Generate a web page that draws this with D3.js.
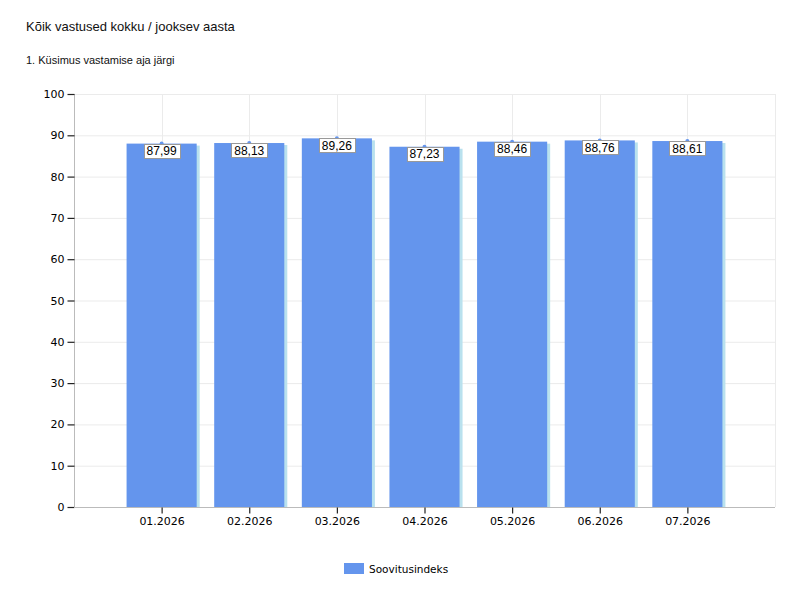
<!DOCTYPE html>
<html><head><meta charset="utf-8">
<script src="https://cdn.jsdelivr.net/npm/d3@7"></script>
<style>body{margin:0;background:#fff}svg{display:block}</style>
</head><body><svg id="c" width="800" height="600"></svg>
<script>
const categories = ["01.2026","02.2026","03.2026","04.2026","05.2026","06.2026","07.2026"];
const values = [87.99, 88.13, 89.26, 87.23, 88.46, 88.76, 88.61];
const yTicks = [0,10,20,30,40,50,60,70,80,90,100];
const seriesName = "Soovitusindeks";
const titleText = "Kõik vastused kokku / jooksev aasta";
const subtitleText = "1. Küsimus vastamise aja järgi";

const svg = d3.select("#c");
const L = 74, R = 775, T = 94, B = 507;
const x = d3.scaleLinear().domain([0, categories.length + 1]).range([L, R]);
const y = d3.scaleLinear().domain([0, 100]).range([B, T]);
const step = x(1) - x(0);
const bw = step * 0.8;

svg.append("text").attr("x", 26).attr("y", 31).attr("font-family", "Liberation Sans, Arial, sans-serif")
  .attr("font-size", 13).attr("fill", "#111").text(titleText);
svg.append("text").attr("x", 26).attr("y", 64).attr("font-family", "Liberation Sans, Arial, sans-serif")
  .attr("font-size", 11).attr("fill", "#111").text(subtitleText);

// grid
const g = svg.append("g");
g.selectAll("line.h").data(yTicks.filter(d => d > 0)).join("line")
  .attr("x1", L).attr("x2", R).attr("y1", d => y(d) + 0.5).attr("y2", d => y(d) + 0.5)
  .attr("stroke", "#ebebeb");
g.selectAll("line.v").data(categories.map((c, i) => i + 1)).join("line")
  .attr("x1", d => Math.round(x(d)) + 0.5).attr("x2", d => Math.round(x(d)) + 0.5)
  .attr("y1", T).attr("y2", B).attr("stroke", "#ebebeb");
g.append("line").attr("x1", R + 0.5).attr("x2", R + 0.5).attr("y1", T).attr("y2", B).attr("stroke", "#ebebeb");

// bars shadow
svg.append("g").selectAll("rect").data(values).join("rect")
  .attr("x", (d, i) => x(i + 1) - bw / 2 + 3).attr("y", d => y(d) + 2)
  .attr("width", bw).attr("height", d => B - y(d) - 2)
  .attr("fill", "#b9e1ee");
svg.append("g").selectAll("rect").data(values).join("rect")
  .attr("x", (d, i) => x(i + 1) - bw / 2).attr("y", d => y(d))
  .attr("width", bw).attr("height", d => B - y(d))
  .attr("fill", "#6495ed");

// axes
const ya = d3.axisLeft(y).tickValues(yTicks).tickSize(7).tickPadding(3);
const yg = svg.append("g").attr("transform", `translate(${L + 0.5},0)`).call(ya);
yg.select(".domain").attr("stroke", "#bbb").attr("d", `M0,${T}V${B}`);
yg.selectAll(".tick line").attr("stroke", "#222").attr("stroke-width", 1.2);
yg.selectAll(".tick text").attr("font-family", "DejaVu Sans, Verdana, sans-serif").attr("font-size", 11).attr("fill", "#000");

const xa = d3.axisBottom(x).tickValues(categories.map((c, i) => i + 1))
  .tickFormat(d => categories[d - 1]).tickSize(6).tickPadding(4);
const xg = svg.append("g").attr("transform", `translate(0,${B + 0.5})`).call(xa);
xg.select(".domain").attr("stroke", "#bbb").attr("d", `M${L},0H${R}`);
xg.selectAll(".tick line").attr("stroke", "#222").attr("stroke-width", 1.2);
xg.selectAll(".tick text").attr("font-family", "DejaVu Sans, Verdana, sans-serif").attr("font-size", 11).attr("fill", "#000");

// markers and labels
const lg = svg.append("g");
values.forEach((v, i) => {
  const cx = x(i + 1), cy = y(v);
  lg.append("circle").attr("cx", cx).attr("cy", cy).attr("r", 2).attr("fill", "#6495ed");
  const label = v.toFixed(2).replace(".", ",");
  const t = lg.append("text").attr("x", cx).attr("y", cy + 11.5).attr("text-anchor", "middle")
    .attr("font-family", "Liberation Sans, Arial, sans-serif").attr("font-size", 12).attr("fill", "#000").text(label);
  lg.insert("rect", () => t.node()).attr("x", Math.round(cx - 18) + 0.5).attr("y", Math.round(cy) + 0.5)
    .attr("width", 36).attr("height", 14).attr("fill", "#fff").attr("stroke", "#999");
});

// legend
svg.append("rect").attr("x", 344).attr("y", 563).attr("width", 20).attr("height", 11).attr("fill", "#6495ed");
svg.append("text").attr("x", 369).attr("y", 573).attr("font-family", "DejaVu Sans, Verdana, sans-serif")
  .attr("font-size", 10.5).attr("font-weight", 500).attr("fill", "#000").text(seriesName);
</script></body></html>
